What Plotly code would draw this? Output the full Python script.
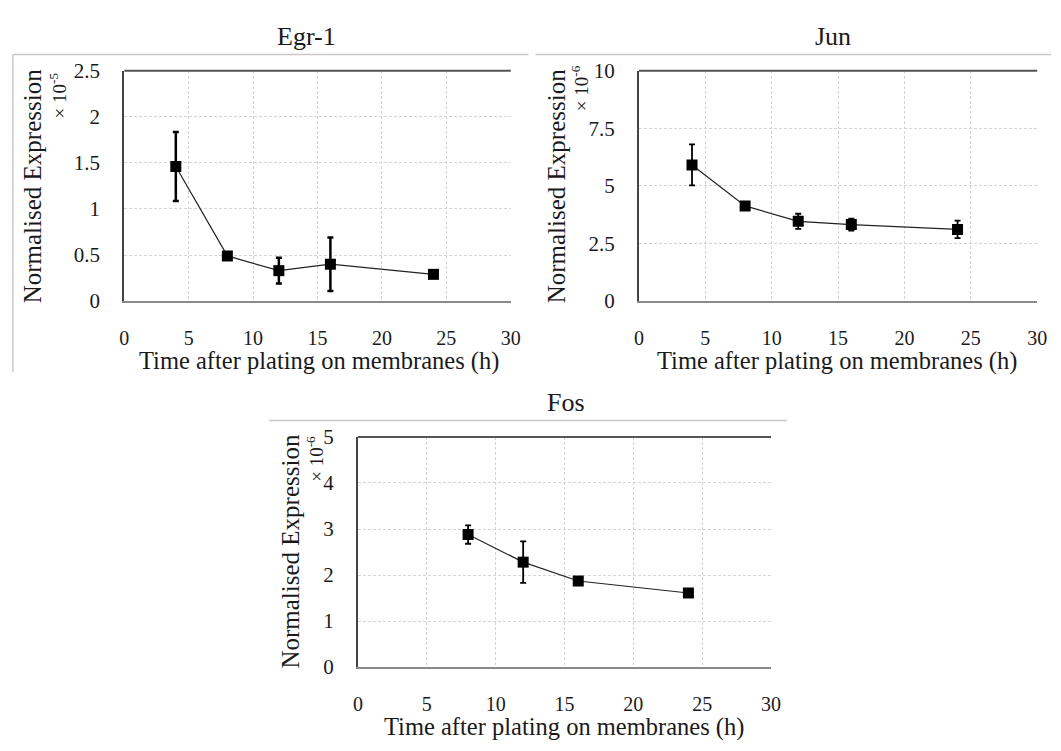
import plotly.graph_objects as go

# Time points (h) and normalised expression for each gene
time_egr1 = [4, 8, 12, 16, 24]
egr1_mean = [1.46, 0.49, 0.33, 0.40, 0.29]   # x 1e-5
egr1_err = [0.375, 0.03, 0.14, 0.29, 0.03]

time_jun = [4, 8, 12, 16, 24]
jun_mean = [5.91, 4.13, 3.46, 3.32, 3.11]    # x 1e-6
jun_err = [0.89, 0.08, 0.33, 0.26, 0.38]

time_fos = [8, 12, 16, 24]
fos_mean = [2.88, 2.28, 1.87, 1.61]          # x 1e-6
fos_err = [0.20, 0.45, 0.05, 0.03]

x_ticks = [0, 5, 10, 15, 20, 25, 30]
egr1_yticks = [0, 0.5, 1, 1.5, 2, 2.5]
jun_yticks = [0, 2.5, 5, 7.5, 10]
fos_yticks = [0, 1, 2, 3, 4, 5]

W, H = 1061, 751
FONT = "'Liberation Serif', 'DejaVu Serif', serif"
INK = "#1a1a1a"


def px_x(v):
    return v / W


def px_y(v):
    return 1 - v / H


fig = go.Figure()

panels = [
    ("", time_egr1, egr1_mean, egr1_err, 2.5),
    ("2", time_jun, jun_mean, jun_err, 1.8),
    ("3", time_fos, fos_mean, fos_err, 1.8),
]
for suffix, t, m, e, bar_w in panels:
    fig.add_trace(go.Scatter(
        x=t, y=m, mode="lines+markers",
        xaxis="x" + suffix, yaxis="y" + suffix,
        line=dict(color="#222222", width=1.2),
        marker=dict(symbol="square", size=11, color="black"),
        error_y=dict(type="data", array=e, visible=True,
                     color="black", thickness=bar_w, width=3),
        showlegend=False,
    ))

grid = dict(showgrid=True, gridcolor="#d4d4d4", griddash="3px,2px", gridwidth=1)
tickfont = dict(family=FONT, size=21, color=INK)

def xaxis(domain, anchor):
    return dict(domain=domain, anchor=anchor, range=[0, 30],
                tickmode="array", tickvals=x_ticks,
                showline=True, linecolor="#8a8a8a", linewidth=2,
                zeroline=False, ticks="", ticklabelstandoff=18,
                tickfont=dict(family=FONT, size=20, color=INK), **grid)

def yaxis(domain, anchor, rng, ticks):
    return dict(domain=domain, anchor=anchor, range=rng,
                tickmode="array", tickvals=ticks,
                ticktext=[f"{v:g}" for v in ticks],
                showline=True, linecolor="#444444", linewidth=2,
                zeroline=False, ticks="", ticklabelstandoff=18,
                tickfont=tickfont, **grid)

egr_xd = [px_x(121), px_x(513)]
jun_xd = [px_x(643), px_x(1047)]
fos_xd = [px_x(358), px_x(777)]
top_yd = [px_y(298.6), px_y(60.7)]
fos_yd = [px_y(676.7), px_y(439)]

fig.update_layout(
    width=W, height=H,
    margin=dict(l=0, r=0, t=0, b=0),
    paper_bgcolor="white", plot_bgcolor="white",
    font=dict(family=FONT, color=INK),
    xaxis=xaxis(egr_xd, "y"),
    yaxis=yaxis(top_yd, "x", [0, 2.5], egr1_yticks),
    xaxis2=xaxis(jun_xd, "y2"),
    yaxis2=yaxis(top_yd, "x2", [0, 10], jun_yticks),
    xaxis3=xaxis(fos_xd, "y3"),
    yaxis3=yaxis(fos_yd, "x3", [0, 5], fos_yticks),
)

shapes = []
# top border of each plotting area
for sx, sy in [("x", "y"), ("x2", "y2"), ("x3", "y3")]:
    shapes.append(dict(type="line", xref=sx + " domain", yref=sy + " domain",
                       x0=0, x1=1, y0=1, y1=1,
                       line=dict(color="#555555", width=2)))
# light frames around the panels
frame = dict(color="#c8c8c8", width=1.5)
shapes += [
    dict(type="line", xref="paper", yref="paper",
         x0=px_x(8), x1=px_x(531), y0=px_y(44), y1=px_y(44), line=frame),
    dict(type="line", xref="paper", yref="paper",
         x0=px_x(8), x1=px_x(8), y0=px_y(44), y1=px_y(372), line=frame),
    dict(type="line", xref="paper", yref="paper",
         x0=px_x(538), x1=px_x(1061), y0=px_y(44), y1=px_y(44), line=frame),
    dict(type="line", xref="paper", yref="paper",
         x0=px_x(268), x1=px_x(793), y0=px_y(422), y1=px_y(422), line=frame),
]
fig.update_layout(shapes=shapes)

def text(x, y, s, size, angle=0):
    return dict(x=px_x(x), y=px_y(y), xref="paper", yref="paper",
                text=s, showarrow=False, textangle=angle,
                xanchor="center", yanchor="middle",
                font=dict(family=FONT, size=size, color=INK))

xlabel = "Time after plating on membranes (h)"
ylabel = "Normalised Expression"
annotations = [
    text(306, 25, "Egr-1", 26),
    text(840, 25, "Jun", 26),
    text(569, 403, "Fos", 26),
    text(318, 361, xlabel, 24.5),
    text(844, 361, xlabel, 24.5),
    text(567, 739, xlabel, 24.5),
    text(27.5, 180, ylabel, 25, -90),
    text(559, 180, ylabel, 25, -90),
    text(290, 557.5, ylabel, 25, -90),
    text(54, 86, "× 10<sup>-5</sup>", 19, -90),
    text(584, 79, "× 10<sup>-6</sup>", 19, -90),
    text(315, 462, "× 10<sup>-6</sup>", 19, -90),
]
fig.update_layout(annotations=annotations)

fig.write_html("out.html")
